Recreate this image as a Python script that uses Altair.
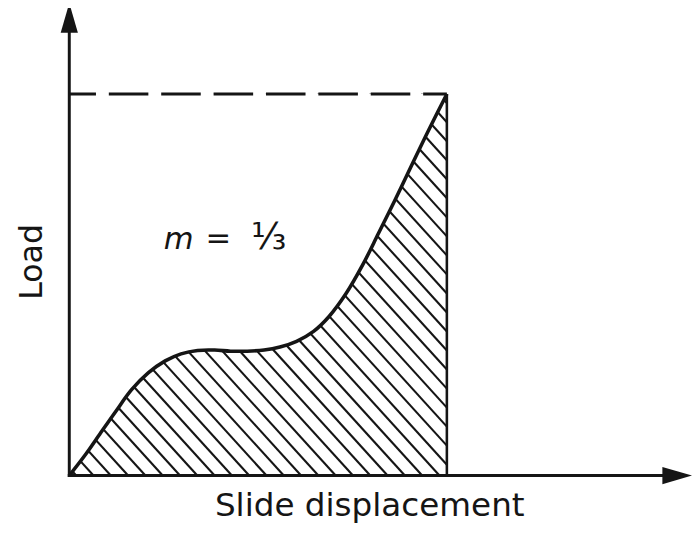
import altair as alt
import pandas as pd
import numpy as np

# ---- data (normalised units: end of stroke = 1, peak load = 1)
disp = [0.0, 0.0445, 0.0864, 0.123, 0.165, 0.209, 0.254, 0.296, 0.340, 0.385, 0.427,
        0.471, 0.516, 0.558, 0.602, 0.647, 0.688, 0.733, 0.777, 0.819, 0.864, 0.908,
        0.950, 1.0]
load = [0.0, 0.057, 0.1166, 0.168, 0.225, 0.269, 0.3005, 0.319, 0.328, 0.329, 0.326,
        0.326, 0.329, 0.337, 0.352, 0.378, 0.417, 0.477, 0.552, 0.635, 0.725, 0.816,
        0.902, 1.0]
x_end = 1.0
y_peak = 1.0
x_title = "Slide displacement"
y_title = "Load"
m_label = ["m", "=", "\u2153"]

# ---- layout (pixels)
W, H = 692, 518
ORIGIN_X, ORIGIN_Y = 62, 470      # plot-area pixel of data (0, 0)
UNIT_X, UNIT_Y = 382, 386         # pixels per data unit
INK = "#151515"
CURVE_INTERP = "catmull-rom"

xdom = [-ORIGIN_X / UNIT_X, (W - ORIGIN_X) / UNIT_X]
ydom = [(ORIGIN_Y - H) / UNIT_Y, ORIGIN_Y / UNIT_Y]
xs = alt.Scale(domain=xdom, nice=False, zero=False)
ys = alt.Scale(domain=ydom, nice=False, zero=False)


def X(f="x"):
    return alt.X(f"{f}:Q", scale=xs, axis=None)


def Y(f="y"):
    return alt.Y(f"{f}:Q", scale=ys, axis=None)


curve = pd.DataFrame({"x": disp, "y": load, "top": [y_peak] * len(disp)})

# ---- hatching (style: slope and spacing in pixels), clipped to the box [0,x_end]x[0,y_peak]
slope_px = 1.1
spacing_px = 17.5
phase_px = 7
k = slope_px * UNIT_X / UNIT_Y
segs = []
c = phase_px / UNIT_X
while c < x_end + y_peak / k:
    xlo = max(0.0, c - y_peak / k)
    xhi = min(x_end, c)
    if xhi > xlo:
        segs.append({"x": xlo, "y": k * (c - xlo), "x2": xhi, "y2": k * (c - xhi)})
    c += spacing_px / UNIT_X
hatch_df = pd.DataFrame(segs)

hatch = alt.Chart(hatch_df).mark_rule(color=INK, strokeWidth=2.1).encode(
    x=X(), y=Y(), x2="x2:Q", y2="y2:Q")

mask = alt.Chart(curve).mark_area(color="white", interpolate=CURVE_INTERP, opacity=1).encode(
    x=X(), y=Y(), y2="top:Q")

line = alt.Chart(curve).mark_line(color=INK, strokeWidth=3.6, interpolate=CURVE_INTERP).encode(
    x=X(), y=Y())

frame_df = pd.DataFrame({"x": [0.0], "x2": [x_end], "y": [y_peak], "y2": [0.0]})
dashed = alt.Chart(frame_df).mark_rule(color=INK, strokeWidth=3, strokeDash=[40, 13],
                                       strokeDashOffset=13).encode(
    x=X(), x2="x2:Q", y=Y())
vert = alt.Chart(frame_df).mark_rule(color=INK, strokeWidth=2.6).encode(
    x=alt.X("x2:Q", scale=xs, axis=None), y=Y(), y2="y2:Q")

# axes with arrow heads
ax_tip_y = (ORIGIN_Y - 15 + 8) / UNIT_Y      # y-arrow centre (tip near top of page)
ax_tip_x = (W - 15 - ORIGIN_X) / UNIT_X      # x-arrow centre
axes_df = pd.DataFrame({
    "x": [0.0, -0.004], "y": [-0.004, 0.0],
    "x2": [0.0, ax_tip_x - 0.02], "y2": [ax_tip_y - 0.02, 0.0]})
axes = alt.Chart(axes_df).mark_rule(color=INK, strokeWidth=3).encode(
    x=X(), y=Y(), x2="x2:Q", y2="y2:Q")

arrow_df = pd.DataFrame({"x": [0.0, ax_tip_x], "y": [ax_tip_y, 0.0], "ang": [0, 90]})
arrows = alt.Chart(arrow_df).mark_point(
    shape="M0,-1L0.58,1L-0.58,1Z", filled=True, size=900, color=INK, opacity=1,
    strokeWidth=0).encode(x=X(), y=Y(), angle=alt.Angle("ang:Q", scale=None))

# texts
font = "DejaVu Sans"
xt_df = pd.DataFrame({"x": [(374 - 70) / UNIT_X], "y": [-0.106], "t": [x_title]})
xt = alt.Chart(xt_df).mark_text(font=font, fontSize=33, color=INK, align="center",
                                baseline="alphabetic").encode(x=X(), y=Y(), text="t:N")
yt_df = pd.DataFrame({"x": [-0.098], "y": [0.56], "t": [y_title]})
yt = alt.Chart(yt_df).mark_text(font=font, fontSize=32, color=INK, align="center",
                                baseline="middle", angle=270).encode(x=X(), y=Y(), text="t:N")

m_df = pd.DataFrame({"x": [0.29], "y": [0.593], "t": [m_label[0]]})
m_t = alt.Chart(m_df).mark_text(font=font, fontSize=31, fontStyle="italic", color=INK,
                                align="center", baseline="alphabetic").encode(
    x=X(), y=Y(), text="t:N")
eq_df = pd.DataFrame({"x": [0.395], "y": [0.596], "t": [m_label[1]]})
eq_t = alt.Chart(eq_df).mark_text(font=font, fontSize=31, color=INK,
                                  align="center", baseline="alphabetic").encode(
    x=X(), y=Y(), text="t:N")
fr_df = pd.DataFrame({"x": [0.528], "y": [0.593], "t": [m_label[2]]})
fr_t = alt.Chart(fr_df).mark_text(font=font, fontSize=37, color=INK,
                                  align="center", baseline="alphabetic").encode(
    x=X(), y=Y(), text="t:N")

chart = alt.layer(hatch, mask, line, dashed, vert, axes, arrows, xt, yt, m_t, eq_t, fr_t).properties(
    width=W, height=H, padding=0, autosize=alt.AutoSizeParams(type="none"),
    background="white"
).configure_view(stroke=None)

chart.save("out.html", embed_options={"renderer": "svg", "actions": False})
